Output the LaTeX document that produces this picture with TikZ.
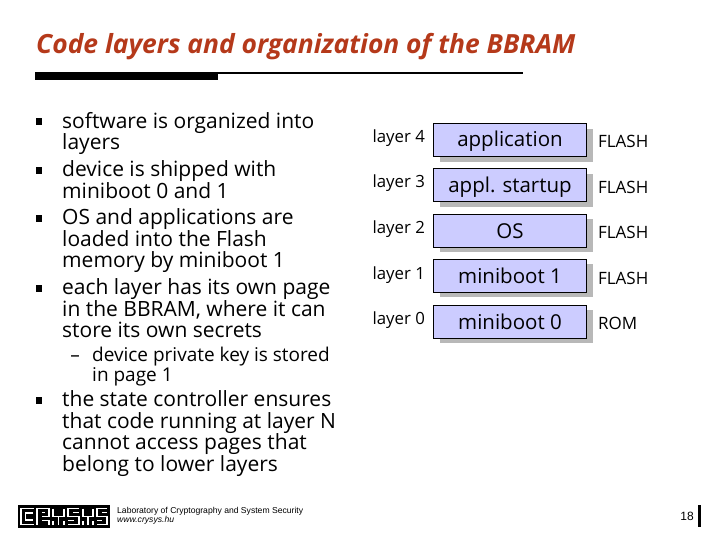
\documentclass[tikz,border=0pt]{standalone}
\usepackage{fontspec}
\setmainfont{Open Sans}
\newfontfamily\footfont{Liberation Sans}
\usepackage{tikz}
\usetikzlibrary{positioning}
\definecolor{titlered}{RGB}{181,57,26}
\definecolor{boxblue}{RGB}{204,204,255}
\definecolor{shadowgray}{RGB}{184,184,184}
\tikzset{
        item/.style={align=left, inner sep=0pt, font=\fontsize{21}{21.6}\selectfont},
        subitem/.style={item, font=\fontsize{19}{20}\selectfont},
        bullet/.style={fill=black, inner sep=0pt, minimum width=6.5pt, minimum height=7pt},
        layerbox/.style={draw=black, line width=0.8pt, fill=boxblue, minimum width=153pt,
                         minimum height=33pt, inner sep=0pt, text height=17pt, text depth=2pt,
                         font=\fontsize{20.5}{24}\selectfont},
        layershadow/.style={fill=shadowgray, minimum width=153pt, minimum height=33pt, inner sep=0pt},
        layername/.style={inner sep=0pt, font=\fontsize{16.8}{18}\selectfont},
        memname/.style={inner sep=0pt, font=\fontsize{17}{18}\selectfont},
        logoline/.style={draw=white, line width=1.7pt},
}
\begin{document}
\begin{tikzpicture}[x=1pt, y=-1pt]
    \useasboundingbox (0,0) rectangle (720,540);
    \fill[white] (0,0) rectangle (720,540);

    % title and rule
    \node[anchor=west, inner sep=0pt, text=titlered, font=\fontsize{26.4}{28}\selectfont\bfseries\itshape] (title) at (36,46.5)
        {Code layers and organization of the BBRAM};
    \fill[black] (35,72) rectangle (218,80);
    \fill[black] (218,72) rectangle (523,74.5);

    % left column
    \node[item, anchor=north west] (item1) at (62,112) {software is organized into\\layers};
    \node[item, below right=5.5pt and 0pt of item1.south west] (item2) {device is shipped with\\miniboot 0 and 1};
    \node[item, below right=9.5pt and 0pt of item2.south west] (item3) {OS and applications are\\loaded into the Flash\\memory by miniboot 1};
    \node[item, below right=5.5pt and 0pt of item3.south west] (item4) {each layer has its own page\\in the BBRAM, where it can\\store its own secrets};
    \node[subitem, below right=9pt and 30pt of item4.south west] (sub1) {device private key is stored\\in page 1};
    \node[item, below right=4pt and -30pt of sub1.south west] (item5) {the state controller ensures\\that code running at layer N\\cannot access pages that\\belong to lower layers};

    \node[bullet, left=19.5pt of item1.north west, yshift=-10pt] (bull1) {};
    \node[bullet, left=19.5pt of item2.north west, yshift=-10pt] (bull2) {};
    \node[bullet, left=19.5pt of item3.north west, yshift=-10pt] (bull3) {};
    \node[bullet, left=19.5pt of item4.north west, yshift=-10pt] (bull4) {};
    \node[bullet, left=19.5pt of item5.north west, yshift=-10pt] (bull5) {};
    \node[subitem, left=12pt of sub1.north west, yshift=-11pt] (dash1) {--};

    % layers
    \node[layershadow] (s4) at (516,145.5) {};
    \node[layerbox] (l4) at (510,139.5) {application};
    \node[layershadow, below=11.75pt of s4] (s3) {};
    \node[layerbox, below=11.75pt of l4] (l3) {appl. startup};
    \node[layershadow, below=11.75pt of s3] (s2) {};
    \node[layerbox, below=11.75pt of l3] (l2) {OS};
    \node[layershadow, below=11.75pt of s2] (s1) {};
    \node[layerbox, below=11.75pt of l2] (l1) {miniboot 1};
    \node[layershadow, below=11.75pt of s1] (s0) {};
    \node[layerbox, below=11.75pt of l1] (l0) {miniboot 0};
    \foreach \n in {4,3,2,1,0}{
        \node[layername, left=8pt of l\n, yshift=1.5pt] (name\n) {layer \n};
    }
    \node[memname, right=11pt of l4, yshift=-2pt] (mem4) {FLASH};
    \node[memname, right=11pt of l3, yshift=-2pt] (mem3) {FLASH};
    \node[memname, right=11pt of l2, yshift=-2pt] (mem2) {FLASH};
    \node[memname, right=11pt of l1, yshift=-2pt] (mem1) {FLASH};
    \node[memname, right=11pt of l0, yshift=-2pt] (mem0) {ROM};

    % footer
    \fill[black] (18,505) rectangle (110,528);
    % C
    \draw[logoline] (34,508.5) -- (21,508.5) -- (21,524.5) -- (34,524.5) (33,513) -- (25.5,513) -- (25.5,520) -- (33,520);
    % R
    \draw[logoline] (37,524.5) -- (37,508.5) -- (49,508.5) -- (49,516.5) -- (42,516.5) (42,512.5) -- (45,512.5) (42,520.5) -- (49,520.5) -- (49,524.5);
    % Y
    \draw[logoline] (53,508.5) -- (53,516.5) -- (64,516.5) -- (64,508.5) (58.5,516.5) -- (58.5,524.5) (53,521) -- (53,524.5) (64,521) -- (64,524.5);
    % S
    \draw[logoline] (79,508.5) -- (68,508.5) -- (68,516.5) -- (79,516.5) -- (79,524.5) -- (68,524.5) (73,512.5) -- (79,512.5) (68,520.5) -- (74,520.5);
    % Y
    \draw[logoline] (83,508.5) -- (83,516.5) -- (93,516.5) -- (93,508.5) (88,516.5) -- (88,524.5) (83,521) -- (83,524.5) (93,521) -- (93,524.5);
    % S
    \draw[logoline] (107,508.5) -- (97,508.5) -- (97,516.5) -- (107,516.5) -- (107,524.5) -- (97,524.5) (102,512.5) -- (107,512.5) (97,520.5) -- (102,520.5);
    \node[anchor=west, align=left, inner sep=0pt, font=\footfont\fontsize{8.6}{8.8}\selectfont] (lab) at (117,515.5)
        {Laboratory of Cryptography and System Security\\\textit{www.crysys.hu}};
    \node[anchor=east, inner sep=0pt, font=\footfont\fontsize{12}{14}\selectfont] (page) at (694,516) {18};
    \fill[black] (698,505) rectangle (701,527);
\end{tikzpicture}
\end{document}
